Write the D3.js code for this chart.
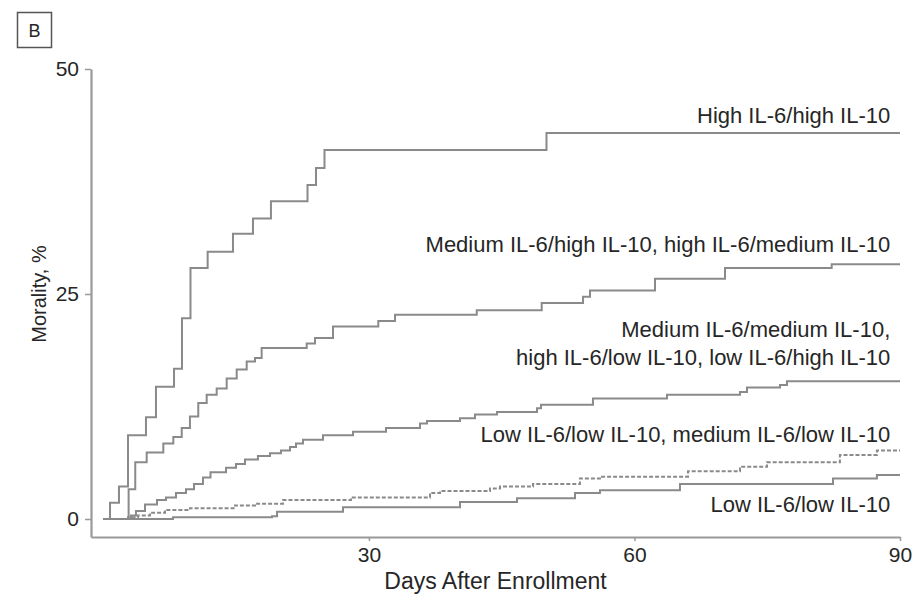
<!DOCTYPE html>
<html>
<head>
<meta charset="utf-8">
<script src="https://cdn.jsdelivr.net/npm/d3@7"></script>
<style>
  html, body { margin: 0; padding: 0; background: #fff; }
  svg { display: block; font-family: "Liberation Sans", Arial, sans-serif; }
</style>
</head>
<body>
<svg id="chart" width="912" height="606"></svg>
<script>
// Cumulative mortality (%) by day after enrollment, one step series per cytokine group.
// Each entry is [day, mortality %]; the value holds until the next day listed.
const highHigh = [
  [0, 0], [0.75, 1.8], [1.76, 3.6], [2.78, 9.3], [4.81, 11.3], [5.94, 14.7],
  [7.98, 16.7], [8.88, 22.3], [9.84, 27.9], [11.78, 29.7], [14.64, 31.7],
  [16.9, 33.4], [18.93, 35.3], [23.06, 37.1], [24.02, 39.0], [24.98, 41.0],
  [50.06, 42.9], [90, 42.9]
];
const mediumHigh = [
  [0, 0], [2.85, 3.3], [3.6, 6.3], [4.89, 7.4], [6.77, 8.4], [7.9, 9.1],
  [8.85, 10.1], [9.78, 11.4], [10.72, 12.9], [11.67, 13.8], [12.8, 14.5],
  [13.93, 15.6], [15.06, 16.6], [16.19, 17.5], [17.13, 17.9], [17.88, 19.0],
  [22.97, 19.5], [23.91, 20.1], [25.94, 21.4], [31.06, 22.0], [32.95, 22.7],
  [42.18, 23.2], [49.52, 24.0], [54.19, 24.7], [54.98, 25.4], [62.32, 26.7],
  [70.23, 27.9], [82.28, 28.3], [90, 28.3]
];
const mediumMixed = [
  [0, 0], [3.12, 0.4], [3.68, 0.9], [4.7, 1.6], [6.06, 2.1], [7.07, 2.4],
  [8.2, 2.9], [9.33, 3.3], [10.24, 3.9], [11.25, 4.6], [12.1, 5.2],
  [13.85, 5.7], [14.98, 6.1], [16.0, 6.6], [17.46, 7.0], [18.82, 7.3],
  [20.06, 7.6], [21.08, 8.0], [21.76, 8.4], [22.55, 8.8], [24.81, 9.3],
  [28.2, 9.7], [31.93, 10.1], [35.77, 10.6], [36.56, 10.9], [40.29, 11.2],
  [41.98, 11.6], [44.47, 11.9], [48.99, 12.3], [49.44, 12.7], [55.31, 13.4],
  [63.67, 13.8], [71.92, 14.1], [72.71, 14.6], [76.44, 14.9], [77.23, 15.3],
  [90, 15.3]
];
const lowMixed = [
  [0, 0], [2.78, 0.2], [3.91, 0.4], [5.26, 0.7], [6.96, 1.0], [9.78, 1.2],
  [14.87, 1.5], [17.13, 1.7], [20.29, 2.1], [27.97, 2.4], [36.9, 2.9],
  [38.03, 3.1], [43.68, 3.4], [44.81, 3.6], [48.54, 3.9], [53.84, 4.5],
  [56.1, 4.7], [66.05, 5.3], [71.92, 5.8], [74.97, 6.3], [83.21, 7.1],
  [87.39, 7.6], [90, 7.6]
];
const lowLow = [
  [0, 0], [7.86, 0.2], [19.05, 0.3], [19.62, 0.8], [27.07, 1.3], [40.29, 1.9],
  [46.73, 2.3], [53.28, 2.9], [56.1, 3.2], [65.14, 3.9], [82.43, 4.5],
  [87.39, 4.9], [90, 4.9]
];

const seriesNames = [
  "High IL-6/high IL-10",
  "Medium IL-6/high IL-10, high IL-6/medium IL-10",
  "Medium IL-6/medium IL-10, high IL-6/low IL-10, low IL-6/high IL-10",
  "Low IL-6/low IL-10, medium IL-6/low IL-10",
  "Low IL-6/low IL-10"
];
const seriesData = [highHigh, mediumHigh, mediumMixed, lowMixed, lowLow];
const seriesDashed = [false, false, false, true, false];

// Label lines next to each curve (multi-line where the group list wraps)
const labelLines = [
  ["High IL-6/high IL-10"],
  ["Medium IL-6/high IL-10, high IL-6/medium IL-10"],
  ["Medium IL-6/medium IL-10,", "high IL-6/low IL-10, low IL-6/high IL-10"],
  ["Low IL-6/low IL-10, medium IL-6/low IL-10"],
  ["Low IL-6/low IL-10"]
];
// Day/percent anchor (right end) for each label's last baseline
const labelAnchors = [[88.9, 44.0], [88.9, 29.7], [88.9, 17.1], [88.9, 8.6], [88.9, 0.8]];

const xTicks = [30, 60, 90];
const yTicks = [0, 25, 50];
const xTitle = "Days After Enrollment";
const yTitle = "Morality, %";
const panelLetter = "B";

const svg = d3.select("#chart");
const ink = "#262626";
const lineGray = "#8a8a8a";

const x = d3.scaleLinear().domain([-1.4, 90]).range([91, 900]);
const y = d3.scaleLinear().domain([-2, 50]).range([537, 69]);

// Axes: plain gray spines with short ticks
const xAxis = svg.append("g")
  .attr("transform", `translate(0,${y(-2)})`)
  .call(d3.axisBottom(x).tickValues(xTicks).tickSize(4).tickSizeOuter(0).tickPadding(6));
const yAxis = svg.append("g")
  .attr("transform", `translate(${x(-1.4)},0)`)
  .call(d3.axisLeft(y).tickValues(yTicks).tickSize(6).tickSizeOuter(0).tickPadding(6));

[xAxis, yAxis].forEach(a => {
  a.select(".domain").attr("stroke", "#999").attr("stroke-width", 2.2);
  a.selectAll(".tick line").attr("stroke", "#999").attr("stroke-width", 1.5);
  a.selectAll(".tick text")
    .attr("fill", ink)
    .style("font-size", "21px")
    .style("font-family", "'Liberation Sans', Arial, sans-serif");
});

// Step curves
const line = d3.line()
  .x(d => x(d[0]))
  .y(d => y(d[1]))
  .curve(d3.curveStepAfter);

svg.append("g")
  .selectAll("path")
  .data(seriesData)
  .join("path")
  .attr("d", line)
  .attr("fill", "none")
  .attr("stroke", lineGray)
  .attr("stroke-width", 2)
  .attr("stroke-dasharray", (d, i) => seriesDashed[i] ? "4,2" : null);

// Curve labels, right-aligned
const lineHeight = 28;
labelLines.forEach((lines, i) => {
  const [ld, lv] = labelAnchors[i];
  const t = svg.append("text")
    .attr("text-anchor", "end")
    .attr("fill", ink)
    .style("font-size", "22px");
  lines.forEach((s, j) => {
    t.append("tspan")
      .attr("x", x(ld))
      .attr("y", y(lv) - (lines.length - 1 - j) * lineHeight)
      .text(s);
  });
});

// Axis titles
svg.append("text")
  .attr("x", (x(-1.4) + x(90)) / 2)
  .attr("y", 589)
  .attr("text-anchor", "middle")
  .attr("fill", ink)
  .style("font-size", "23px")
  .text(xTitle);

svg.append("text")
  .attr("transform", `translate(46,${y(25)}) rotate(-90)`)
  .attr("text-anchor", "middle")
  .attr("fill", ink)
  .style("font-size", "20px")
  .text(yTitle);

// Panel letter in a box
svg.append("rect")
  .attr("x", 17.5).attr("y", 12.5)
  .attr("width", 34).attr("height", 35)
  .attr("fill", "none")
  .attr("stroke", "#555")
  .attr("stroke-width", 1.5);
svg.append("text")
  .attr("x", 34.5).attr("y", 37)
  .attr("text-anchor", "middle")
  .attr("fill", ink)
  .style("font-size", "18px")
  .text(panelLetter);
</script>
</body>
</html>
